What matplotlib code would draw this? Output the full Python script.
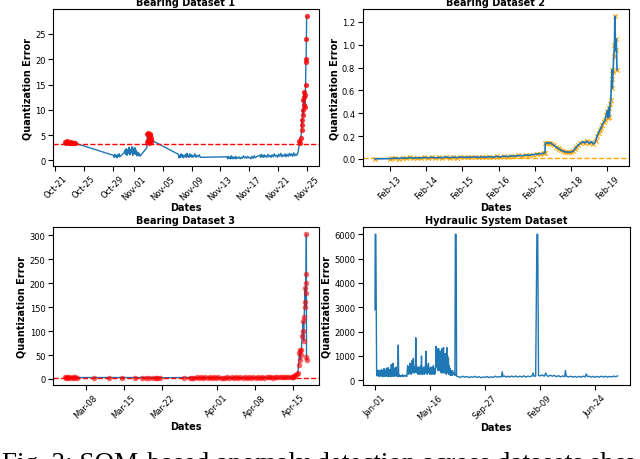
import numpy as np
import pandas as pd
import matplotlib
matplotlib.use("Agg")
import matplotlib.pyplot as plt
import matplotlib.dates as mdates

# ---- Bearing dataset 1 (days after 2003-10-21, quantization error)
b1_start = "2003-10-21"
b1_threshold = 3.3
b1 = np.array([
    (1.4, 3.7), (1.5, 3.4), (1.6, 3.8), (1.7, 3.3), (1.8, 3.6), (1.9, 3.4), (2.0, 3.5),
    (2.1, 3.3), (2.2, 3.6), (2.35, 3.4), (2.5, 3.5), (2.65, 3.35), (2.8, 3.4),
    (8.1, 1.0), (8.2, 0.6), (8.3, 1.2), (8.4, 0.7), (8.5, 1.0), (8.6, 0.5), (8.7, 1.1),
    (8.8, 0.8), (8.9, 1.3), (9.0, 0.7),
    (9.6, 1.5), (9.7, 2.0), (9.8, 1.2), (9.9, 2.3), (10.0, 1.0), (10.1, 2.1), (10.2, 1.4),
    (10.3, 2.6), (10.4, 1.1), (10.5, 2.2), (10.6, 1.5), (10.7, 2.7), (10.8, 1.0), (10.9, 2.4),
    (11.0, 1.3), (11.1, 2.5), (11.2, 1.2), (11.3, 2.0), (11.4, 0.9), (11.5, 1.6), (11.6, 1.0),
    (11.7, 1.4), (11.8, 0.8),
    (12.75, 2.5), (12.8, 3.6), (12.85, 5.2), (12.9, 4.0), (12.95, 5.5), (13.0, 3.8),
    (13.05, 4.8), (13.1, 3.5), (13.15, 5.0), (13.2, 4.2), (13.25, 5.3), (13.3, 3.7),
    (13.35, 4.5), (13.4, 4.0),
    (17.15, 1.2), (17.25, 0.5), (17.35, 1.0), (17.45, 0.6), (17.55, 1.3), (17.65, 0.7),
    (17.75, 1.1), (17.85, 0.5), (17.95, 1.0), (18.05, 0.7), (18.15, 1.2), (18.25, 0.6),
    (18.35, 1.4), (18.45, 0.7), (18.55, 1.0), (18.65, 0.6), (18.75, 1.3), (18.85, 0.8),
    (18.95, 1.1), (19.05, 0.6), (19.15, 1.0), (19.3, 0.7), (19.45, 1.3), (19.6, 0.6),
    (19.75, 1.0), (19.9, 0.7), (20.05, 1.1), (20.2, 0.6),
    (23.9, 0.7), (24.0, 0.3), (24.1, 0.8), (24.2, 0.4), (24.3, 0.6), (24.4, 0.3), (24.5, 0.9),
    (24.6, 0.4), (24.7, 0.7), (24.8, 0.3), (24.9, 0.6), (25.0, 0.4), (25.1, 0.8), (25.2, 0.3),
    (25.3, 0.6), (25.45, 0.4), (25.6, 0.7), (25.75, 0.3), (25.9, 0.6), (26.05, 0.4),
    (26.2, 0.9), (26.35, 0.5), (26.5, 0.7), (26.65, 0.4), (26.8, 0.8), (26.95, 0.5),
    (27.1, 0.6), (27.25, 0.3), (27.4, 0.8), (27.55, 0.4), (27.7, 0.9), (27.85, 0.5), (28.0, 0.7),
    (28.5, 1.0), (28.6, 0.6), (28.7, 1.2), (28.8, 0.7), (28.9, 1.0), (29.0, 0.6), (29.1, 1.1),
    (29.2, 0.7), (29.3, 0.9), (29.45, 0.6), (29.6, 1.2), (29.75, 0.7), (29.9, 1.0), (30.05, 0.6),
    (30.2, 1.1), (30.35, 0.7), (30.5, 1.3), (30.65, 0.8), (30.8, 1.0), (30.95, 0.6), (31.1, 1.2),
    (31.25, 0.8), (31.4, 1.4), (31.55, 0.7), (31.7, 1.1), (31.85, 0.8), (32.0, 1.3), (32.15, 0.7),
    (32.3, 1.2), (32.45, 0.8), (32.6, 1.4), (32.75, 0.9), (32.9, 1.3), (33.05, 0.8), (33.2, 1.5),
    (33.35, 0.9), (33.5, 1.2), (33.65, 1.0), (33.8, 1.6),
    (33.9, 2.5), (34.0, 3.8), (34.1, 3.5), (34.2, 4.5), (34.3, 6.0), (34.35, 8.0), (34.4, 7.0),
    (34.45, 10.0), (34.5, 9.0), (34.55, 12.0), (34.6, 11.0), (34.65, 13.5), (34.7, 12.5),
    (34.75, 10.5), (34.8, 13.0), (34.85, 15.0), (34.9, 19.5), (34.93, 20.0), (34.96, 24.0),
    (35.0, 28.5),
])
b1_ticks = ["2003-10-21", "2003-10-25", "2003-10-29", "2003-11-01", "2003-11-05",
            "2003-11-09", "2003-11-13", "2003-11-17", "2003-11-21", "2003-11-25"]

# ---- Bearing dataset 2 (days after 2004-02-12)
b2_start = "2004-02-12"
b2_threshold = 0.005
b2 = np.array([
    (0.59, 0.000), (1.0, 0.002), (1.07, 0.004), (1.15, 0.008), (1.25, 0.003), (1.35, 0.010),
    (1.45, 0.005), (1.55, 0.012), (1.65, 0.006), (1.75, 0.011), (1.85, 0.007), (1.95, 0.013),
    (2.05, 0.008), (2.15, 0.014), (2.25, 0.009), (2.35, 0.012), (2.45, 0.010), (2.55, 0.016),
    (2.65, 0.010), (2.75, 0.015), (2.85, 0.011), (2.95, 0.018), (3.05, 0.012), (3.15, 0.016),
    (3.25, 0.013), (3.35, 0.019), (3.45, 0.012), (3.55, 0.017), (3.65, 0.014), (3.75, 0.020),
    (3.85, 0.013), (3.95, 0.022), (4.05, 0.016), (4.15, 0.024), (4.25, 0.020), (4.35, 0.027),
    (4.45, 0.023), (4.55, 0.030), (4.65, 0.027), (4.75, 0.034), (4.85, 0.031), (4.95, 0.038),
    (5.05, 0.040), (5.15, 0.046), (5.25, 0.048), (5.28, 0.055),
    (5.29, 0.135), (5.33, 0.140), (5.38, 0.138), (5.43, 0.142), (5.48, 0.130), (5.53, 0.118),
    (5.58, 0.105), (5.63, 0.095), (5.68, 0.085), (5.73, 0.075), (5.78, 0.068), (5.83, 0.062),
    (5.88, 0.060), (5.94, 0.058), (6.0, 0.060), (6.05, 0.065), (6.1, 0.085), (6.15, 0.105),
    (6.2, 0.120), (6.25, 0.135), (6.32, 0.150), (6.38, 0.140), (6.44, 0.155), (6.5, 0.135),
    (6.56, 0.150), (6.62, 0.130), (6.68, 0.155), (6.72, 0.200), (6.76, 0.230), (6.79, 0.250),
    (6.83, 0.270), (6.86, 0.300), (6.9, 0.320), (6.94, 0.340), (6.97, 0.380), (7.0, 0.420),
    (7.02, 0.360), (7.04, 0.450), (7.06, 0.370), (7.08, 0.480), (7.1, 0.520), (7.12, 0.700),
    (7.13, 0.780), (7.14, 0.620), (7.16, 0.760), (7.18, 0.900), (7.2, 1.000), (7.21, 1.250),
    (7.23, 0.950), (7.25, 1.050), (7.27, 0.780),
])
b2_ticks = ["2004-02-13", "2004-02-14", "2004-02-15", "2004-02-16",
            "2004-02-17", "2004-02-18", "2004-02-19"]

# ---- Bearing dataset 3 (days after 2004-03-04)
b3_start = "2004-03-04"
b3_threshold = 1.5
b3 = np.array([
    (0.22, 4), (0.4, 3), (0.6, 5), (0.8, 3), (1.0, 4), (1.3, 3), (1.6, 4), (1.9, 3),
    (2.1, 4), (2.35, 3),
    (5.5, 3), (8.3, 3), (10.7, 3), (13.0, 3), (14.2, 3), (15.0, 3), (15.6, 3), (16.3, 3),
    (16.8, 2.5), (17.0, 3), (17.5, 2.5), (21.9, 3), (23.1, 3),
    (23.5, 3.0), (23.9, 2.5), (24.3, 3.5), (24.7, 2.8), (25.1, 3.2), (25.5, 2.6), (25.9, 3.8),
    (26.3, 2.7), (26.7, 3.1), (27.1, 2.5), (27.5, 3.4), (27.9, 2.9), (28.3, 3.6), (28.7, 2.6),
    (29.1, 3.0), (29.5, 2.8), (29.9, 3.5), (30.3, 2.7), (30.7, 3.2), (31.1, 2.9), (31.5, 3.9),
    (31.9, 2.6), (32.3, 3.3), (32.7, 2.8), (33.1, 3.6), (33.5, 2.7), (33.9, 3.1), (34.3, 3.0),
    (34.7, 3.7), (35.1, 2.8), (35.5, 3.4), (35.9, 3.0), (36.3, 3.8), (36.7, 2.9), (37.1, 3.5),
    (37.5, 3.1), (37.9, 4.0), (38.3, 3.0), (38.7, 3.6), (39.1, 3.2), (39.5, 4.2), (39.9, 3.3),
    (40.3, 3.8), (40.7, 3.5), (41.1, 4.5), (41.5, 3.8), (41.9, 4.6),
    (42.0, 5), (42.2, 6), (42.4, 8), (42.6, 10), (42.8, 12), (43.0, 30), (43.1, 55),
    (43.2, 60), (43.3, 40), (43.4, 50), (43.5, 60), (43.6, 90), (43.7, 100), (43.8, 120),
    (43.9, 80), (44.0, 130), (44.1, 160), (44.15, 190), (44.2, 150), (44.25, 180),
    (44.3, 220), (44.35, 200), (44.4, 302), (44.42, 45), (44.45, 40),
])
b3_ticks = ["2004-03-08", "2004-03-15", "2004-03-22", "2004-04-01", "2004-04-08", "2004-04-15"]

# ---- Hydraulic system dataset (days after 2021-01-01)
hyd_start = "2021-01-01"
hyd = np.array([
    (0, 2900), (0.5, 6000), (2, 6000), (4, 250),
    (5, 180), (6, 300), (7, 200), (8, 420), (9, 180), (10, 350), (11, 160), (12, 400),
    (13, 200), (14, 300), (15, 170), (16, 450), (17, 200), (18, 380), (19, 150), (20, 300),
    (21, 200), (22, 480), (23, 170), (24, 350), (25, 160), (26, 400), (27, 200), (28, 500),
    (29, 180), (30, 300), (31, 150), (32, 520), (33, 200), (34, 350), (35, 160), (36, 450),
    (37, 180), (38, 300), (39, 150), (40, 650), (41, 200), (42, 400), (43, 170), (44, 700),
    (45, 200), (46, 350), (47, 160), (48, 500), (49, 180), (50, 400), (51, 200), (52, 550),
    (53, 170), (55, 300), (56, 150), (57, 1450), (58, 200), (59, 160), (60, 220), (62, 150),
    (64, 200), (66, 160), (68, 230), (70, 150), (72, 200), (74, 170), (76, 210), (78, 160),
    (80, 600), (81, 300), (82, 550), (83, 250), (84, 450), (85, 300), (86, 700), (87, 350),
    (88, 500), (89, 250), (90, 800), (91, 400), (92, 600), (93, 300), (94, 900), (95, 400),
    (96, 550), (97, 300), (98, 500), (99, 350), (100, 1750), (101, 400), (102, 600),
    (103, 300), (104, 500), (105, 250), (106, 450), (107, 300), (108, 550), (109, 250),
    (110, 400), (111, 350), (112, 600), (113, 250), (114, 1000), (115, 300), (116, 500),
    (117, 250), (118, 450), (119, 300), (120, 550), (121, 250), (122, 400), (123, 300),
    (125, 1200), (126, 300), (127, 500), (128, 250), (129, 600), (130, 300), (131, 700),
    (132, 350), (133, 500), (134, 250), (135, 450), (136, 300), (137, 550), (138, 250),
    (139, 400), (140, 300), (141, 500), (142, 250), (143, 600), (144, 300), (145, 450),
    (146, 250), (147, 500), (148, 300), (149, 900), (150, 1400), (151, 600), (152, 1300),
    (153, 500), (154, 1100), (155, 400), (156, 1300), (157, 600), (158, 900), (159, 400),
    (160, 1200), (161, 350), (162, 700), (163, 300), (164, 1300), (165, 500), (166, 800),
    (167, 300), (168, 1350), (169, 400), (170, 900), (171, 300), (172, 1100), (173, 400),
    (174, 600), (175, 250), (176, 1350), (177, 500), (178, 1000), (179, 300), (180, 900),
    (181, 250), (182, 600), (183, 300), (184, 500), (185, 200), (186, 400), (187, 250),
    (188, 350), (189, 200), (190, 400), (192, 250), (194, 300), (196, 200), (197, 6000),
    (199, 6000), (200, 200), (201, 160),
    (205, 150), (210, 120), (215, 170), (220, 130), (225, 160), (230, 110), (235, 150),
    (240, 125), (245, 165), (250, 120), (255, 150), (260, 105), (265, 140), (270, 120),
    (275, 160), (280, 110), (285, 145), (290, 120), (295, 170), (300, 130), (305, 150),
    (310, 140), (312, 350), (314, 150), (318, 180), (322, 130), (326, 170), (330, 135),
    (335, 175), (340, 140), (345, 180), (350, 130), (355, 170), (360, 140), (365, 185),
    (370, 130), (375, 175), (380, 150), (385, 180), (388, 300), (390, 160), (394, 180),
    (397, 6000), (399, 6000), (401, 200), (405, 180), (410, 220), (415, 170), (419, 300),
    (421, 200), (425, 160), (430, 210), (435, 170), (440, 200), (445, 150), (450, 190),
    (455, 140), (460, 180), (465, 150), (467, 400), (469, 170), (475, 140), (480, 170),
    (485, 130), (490, 160), (495, 125), (500, 165), (505, 130), (510, 170), (515, 140),
    (518, 260), (521, 150), (525, 170), (530, 130), (535, 165), (540, 125), (545, 160),
    (550, 130), (555, 170), (560, 135), (565, 165), (570, 130), (575, 160), (580, 140),
    (585, 170), (590, 150), (595, 180),
])
hyd_ticks = ["2021-01-01", "2021-05-16", "2021-09-27", "2022-02-09", "2022-06-24"]

titles = ["Bearing Dataset 1", "Bearing Dataset 2", "Bearing Dataset 3", "Hydraulic System Dataset"]
caption = "Fig. 3: SOM-based anomaly detection across datasets showing"

BLUE = "#1f77b4"


def to_dates(start, days):
    return pd.Timestamp(start) + pd.to_timedelta(days, unit="D")


def style(ax, title, ticks):
    ax.set_title(title, fontsize=7, fontweight="bold", pad=3)
    ax.set_xlabel("Dates", fontsize=7, fontweight="bold", labelpad=1)
    ax.set_ylabel("Quantization Error", fontsize=7, fontweight="bold", labelpad=2)
    ax.set_xticks(pd.to_datetime(ticks))
    ax.xaxis.set_major_formatter(mdates.DateFormatter("%b-%d"))
    ax.tick_params(axis="x", labelrotation=45, labelsize=6, pad=2)
    ax.tick_params(axis="y", labelsize=6, pad=2)


fig = plt.figure(figsize=(6.4, 4.6), dpi=100)
ax1 = fig.add_axes([0.083, 0.637, 0.415, 0.341])
ax2 = fig.add_axes([0.567, 0.637, 0.416, 0.341])
ax3 = fig.add_axes([0.083, 0.161, 0.415, 0.343])
ax4 = fig.add_axes([0.567, 0.161, 0.417, 0.343])

# Bearing 1
d1 = to_dates(b1_start, b1[:, 0])
ax1.plot(d1, b1[:, 1], color=BLUE, lw=1)
m1 = b1[:, 1] > b1_threshold
ax1.scatter(d1[m1], b1[m1, 1], color="red", s=14, alpha=0.8, zorder=3, linewidths=0)
ax1.axhline(b1_threshold, color="red", ls="--", lw=1)
ax1.set_yticks([0, 5, 10, 15, 20, 25])
style(ax1, titles[0], b1_ticks)

# Bearing 2
d2 = to_dates(b2_start, b2[:, 0])
m2 = b2[:, 1] >= 0
ax2.scatter(d2[m2], b2[m2, 1], color="orange", marker="x", s=10, lw=0.8, zorder=2)
ax2.plot(d2, b2[:, 1], color=BLUE, lw=1.2, zorder=3)
ax2.axhline(b2_threshold, color="orange", ls="--", lw=1)
style(ax2, titles[1], b2_ticks)

# Bearing 3
d3 = to_dates(b3_start, b3[:, 0])
ax3.plot(d3, b3[:, 1], color=BLUE, lw=1)
m3 = b3[:, 1] > b3_threshold
ax3.scatter(d3[m3], b3[m3, 1], color="red", s=16, alpha=0.6, zorder=3, linewidths=0)
ax3.axhline(b3_threshold, color="red", ls="--", lw=1)
style(ax3, titles[2], b3_ticks)

# Hydraulic
d4 = to_dates(hyd_start, hyd[:, 0])
ax4.plot(d4, hyd[:, 1], color=BLUE, lw=1)
style(ax4, titles[3], hyd_ticks)

fig.text(0.003, -0.024, caption, fontsize=19.5, family="Liberation Serif",
         ha="left", va="baseline")

fig.savefig("out.png", dpi=100)
